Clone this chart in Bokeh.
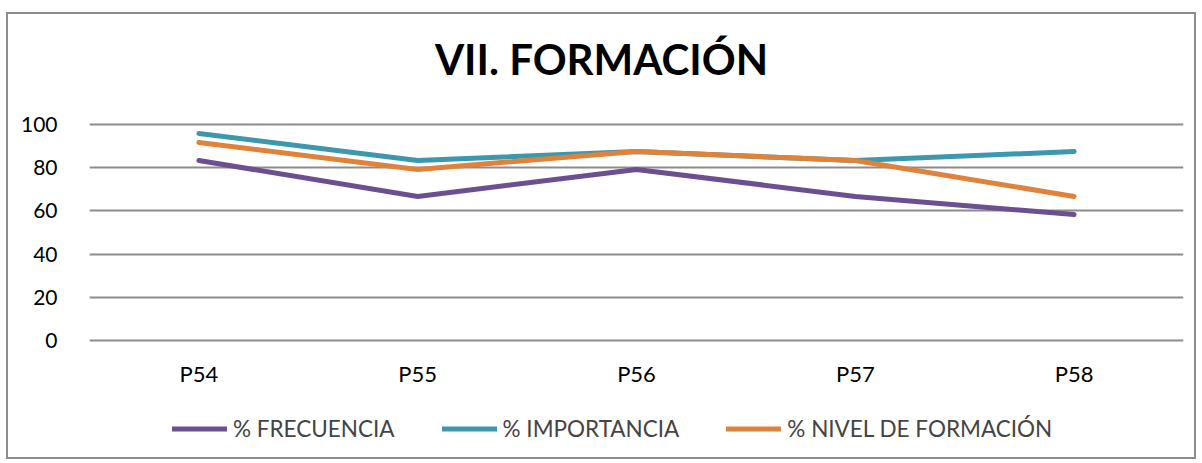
from bokeh.plotting import figure
from bokeh.models import Range1d, FactorRange, Legend, LegendItem, Label, FixedTicker
from bokeh.core.properties import value
from bokeh.embed import file_html
from bokeh.resources import INLINE

categories = ["P54", "P55", "P56", "P57", "P58"]
frecuencia = [83.3, 66.7, 79.2, 66.7, 58.3]
importancia = [95.8, 83.3, 87.5, 83.3, 87.5]
nivel = [91.7, 79.2, 87.5, 83.3, 66.7]
series_names = ["% FRECUENCIA", "% IMPORTANCIA", "% NIVEL DE FORMACIÓN"]
y_ticks = [0, 20, 40, 60, 80, 100]
colors = ["#6B4F91", "#3C98AE", "#E0823A"]
title_text = "VII. FORMACIÓN"

FONT = "Lato"

p = figure(width=1190, height=447, x_range=FactorRange(*categories),
           y_range=Range1d(-56.0, 150.9), output_backend="svg",
           toolbar_location=None, min_border_left=81, min_border_right=15,
           min_border_top=0, min_border_bottom=0)
p.styles = {"border": "2px solid #8c8c8c", "margin-left": "6px", "margin-top": "12px"}
p.outline_line_color = None
p.background_fill_color = "white"

p.xgrid.grid_line_color = None
p.ygrid.grid_line_color = "#8c8c8c"
p.ygrid.grid_line_width = 2
p.yaxis.ticker = FixedTicker(ticks=y_ticks)
p.xaxis.visible = False

ax = p.yaxis[0]
ax.axis_line_color = None
ax.major_tick_line_color = None
ax.minor_tick_line_color = None
ax.major_label_text_font = FONT
ax.major_label_text_font_size = "21px"
ax.major_label_text_color = "black"
ax.major_label_standoff = 26

# category labels below the zero line
p.text(x=categories, y=[-15.3] * len(categories), text=categories,
       text_align="center", text_baseline="middle", text_font=value(FONT),
       text_font_size="22px", text_color="black")

renderers = []
for vals, c in zip([frecuencia, importancia, nivel], colors):
    r = p.line(categories, vals, line_color=c, line_width=5, line_cap="round", line_join="round")
    renderers.append(r)

legend = Legend(items=[LegendItem(label=n, renderers=[r]) for n, r in zip(series_names, renderers)],
                orientation="horizontal", location=(83, 19), padding=0, margin=0,
                spacing=47, glyph_width=55, glyph_height=23, label_height=23,
                label_standoff=6, label_text_font=FONT, label_text_font_size="22.5px",
                border_line_color=None, background_fill_alpha=0)
p.add_layout(legend, "center")

title = Label(x=2.34, y=130.5, text=title_text, text_align="center", text_baseline="middle",
              text_font=FONT, text_font_style="bold", text_font_size="42px", text_color="black")
p.add_layout(title)

open("out.html", "w").write(file_html(p, INLINE))
